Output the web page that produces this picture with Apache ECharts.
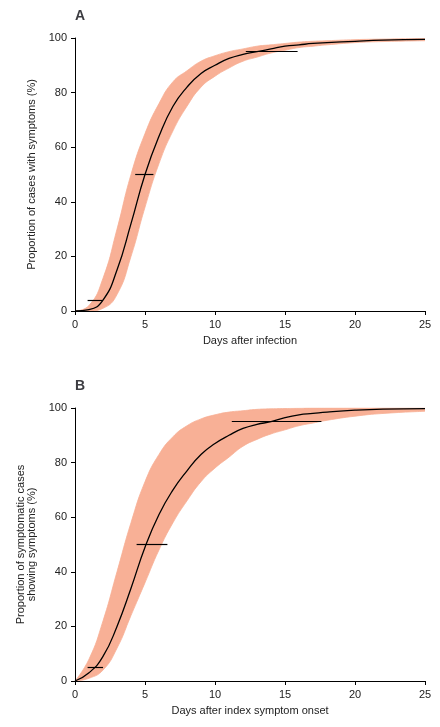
<!DOCTYPE html>
<html><head><meta charset="utf-8">
<script src="https://cdn.jsdelivr.net/npm/echarts@6/dist/echarts.min.js"></script>
<style>html,body{margin:0;background:#fff}#c{width:440px;height:727px}</style>
</head><body><div id="c"></div>
<script>
const days = [0,1,2,3,4,5,6,7,8,9,10,11,12,13,14,15,16,17,18,20,22,25];
const aMedian = [0,0.5,4,15,32,50,64,75,82,87,90,92.5,94,95,96,97,97.5,98,98.3,98.8,99.2,99.5];
const aLower  = [0,0,1,6,20,38,54,66,75,82,86,89,91.5,93,94.5,95.5,96.5,97,97.5,98.3,98.7,99];
const aUpper  = [0,2,12,30,50,65,76,84,88,91.5,93.5,95,96,97,97.5,98,98.5,98.8,99,99.4,99.6,99.8];
const bMedian = [0,3,9,20,34,49,61,70,77,83,87,90,92.5,94,95,96.5,97.5,98,98.5,99.2,99.6,99.8];
const bLower  = [0,1,4,12,24,36,48,58,66,73,78,82,86,88.5,90.5,92,93.5,94.5,95.5,97,98,98.8];
const bUpper  = [0,8,22,40,58,73,83,89.5,93.5,96,97.5,98.5,99,99.5,99.7,99.8,99.9,100,100,100,100,100];
// [from, to, level]
const aBars = [[0.9,2,4],[4.3,5.6,50],[12.2,15.9,95]];
const bBars = [[0.9,2,5],[4.4,6.6,50],[11.2,17.6,95]];

const band = '#f8b096';
const font = 'Liberation Sans';
const pair = (xs, ys) => xs.map((x, i) => [x, ys[i]]);

function axes(idx, xname, yname) {
  const common = {
    gridIndex: idx, min: 0,
    axisLine: {show: true, lineStyle: {color: '#000'}},
    axisTick: {show: true, length: 4, lineStyle: {color: '#000'}},
    axisLabel: {color: '#222', fontSize: 11, fontFamily: font},
    splitLine: {show: false},
    nameTextStyle: {color: '#222', fontSize: 11, fontFamily: font}
  };
  return {
    x: {...common, type: 'value', max: 25, interval: 5, name: xname, nameLocation: 'middle', nameGap: 24},
    y: {...common, type: 'value', max: 100, interval: 20, name: yname, nameLocation: 'middle', nameGap: 32}
  };
}

function seriesFor(idx, lower, upper, median, bars) {
  return [
    {type: 'line', xAxisIndex: idx, yAxisIndex: idx, smooth: true, symbol: 'none', z: 1,
     data: pair(days, upper), lineStyle: {width: 0.8, color: band},
     areaStyle: {color: band, opacity: 1}},
    {type: 'line', xAxisIndex: idx, yAxisIndex: idx, smooth: true, symbol: 'none', z: 2,
     data: pair(days, lower), lineStyle: {width: 0.8, color: band},
     areaStyle: {color: '#fff', opacity: 1}},
    {type: 'line', xAxisIndex: idx, yAxisIndex: idx, smooth: true, symbol: 'none', z: 3,
     data: pair(days, median), lineStyle: {width: 1.3, color: '#000'},
     markLine: {silent: true, symbol: 'none', label: {show: false},
       lineStyle: {color: '#000', width: 1.2, type: 'solid'},
       data: bars.map(b => [{coord: [b[0], b[2]]}, {coord: [b[1], b[2]]}])}}
  ];
}

const a = axes(0, 'Days after infection', 'Proportion of cases with symptoms (%)');
const b = axes(1, 'Days after index symptom onset', 'Proportion of symptomatic cases\nshowing symptoms (%)');
b.y.nameGap = 30;

const chart = echarts.init(document.getElementById('c'));
chart.setOption({
  animation: false,
  title: [
    {text: 'A', left: 70, top: 4, textStyle: {fontSize: 14, fontWeight: 'bold', fontFamily: font}},
    {text: 'B', left: 70, top: 374, textStyle: {fontSize: 14, fontWeight: 'bold', fontFamily: font}}
  ],
  grid: [
    {left: 75, right: 15, top: 38, height: 273},
    {left: 75, right: 15, top: 408, height: 273}
  ],
  xAxis: [{...a.x, z: 5}, {...b.x, z: 5}],
  yAxis: [{...a.y, z: 5}, {...b.y, z: 5}],
  series: [...seriesFor(0, aLower, aUpper, aMedian, aBars), ...seriesFor(1, bLower, bUpper, bMedian, bBars)]
});
</script></body></html>
